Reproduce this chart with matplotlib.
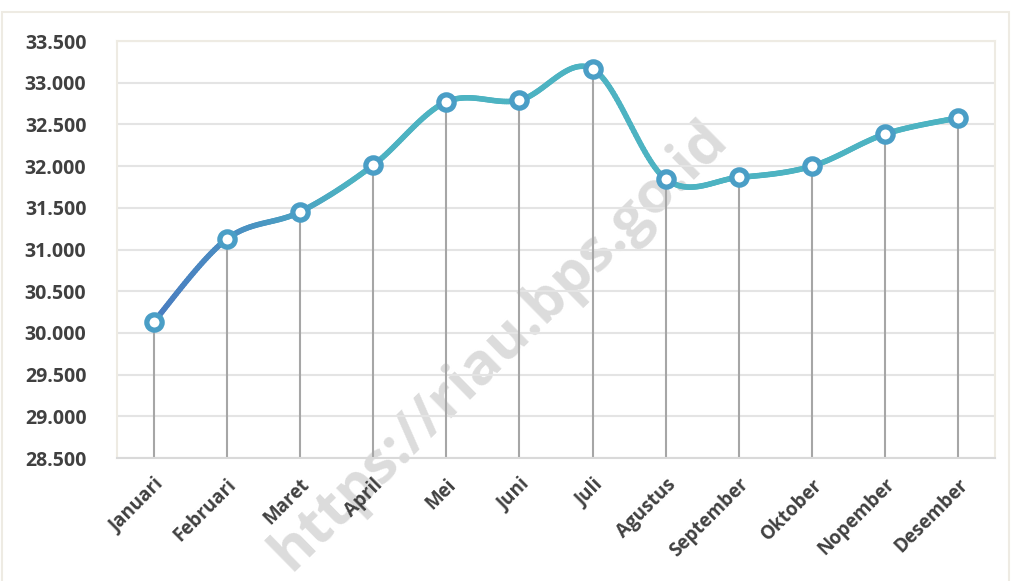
import matplotlib.pyplot as plt
import numpy as np
from matplotlib.collections import LineCollection
from matplotlib.colors import LinearSegmentedColormap
from matplotlib.patches import Rectangle

plt.rcParams['font.family'] = ['Open Sans', 'DejaVu Sans']

# data
months = ["Januari", "Februari", "Maret", "April", "Mei", "Juni", "Juli",
          "Agustus", "September", "Oktober", "Nopember", "Desember"]
values = [30130, 31125, 31450, 32010, 32770, 32790, 33165,
          31845, 31865, 32000, 32385, 32580]
y_ticks = [28500, 29000, 29500, 30000, 30500, 31000, 31500, 32000, 32500, 33000, 33500]


def smooth_curve(xs, ys, n=40):
    # Catmull-Rom style bezier like the spreadsheet "smoothed line"
    xs = np.asarray(xs, float)
    ys = np.asarray(ys, float) / 1000.0
    px, py = [], []
    m = len(xs)
    for i in range(m - 1):
        p0 = np.array([xs[max(i - 1, 0)], ys[max(i - 1, 0)]])
        p1 = np.array([xs[i], ys[i]])
        p2 = np.array([xs[i + 1], ys[i + 1]])
        p3 = np.array([xs[min(i + 2, m - 1)], ys[min(i + 2, m - 1)]])
        c1 = p1 + (p2 - p0) / 6.0
        c2 = p2 - (p3 - p1) / 6.0
        t = np.linspace(0, 1, n)[:, None]
        b = ((1 - t) ** 3) * p1 + 3 * ((1 - t) ** 2) * t * c1 + 3 * (1 - t) * t ** 2 * c2 + t ** 3 * p2
        if i > 0:
            b = b[1:]
        px.extend(b[:, 0])
        py.extend(b[:, 1] * 1000.0)
    return np.array(px), np.array(py)


fig = plt.figure(figsize=(10.12, 5.81), dpi=100)
ax = fig.add_axes([0.1156, 0.2117, 0.8676, 0.7177])
ax.set_facecolor('none')

x = np.arange(len(months))

# drop lines
ax.vlines(x, y_ticks[0], values, color='#a6a6a6', linewidth=1.5, zorder=2)

# smoothed line with blue -> teal gradient
sx, sy = smooth_curve(x, values)
pts = np.column_stack([sx, sy]).reshape(-1, 1, 2)
segs = np.concatenate([pts[:-1], pts[1:]], axis=1)
cmap = LinearSegmentedColormap.from_list('bt', ['#4a7cc0', '#4a93c2', '#4db2c2', '#4db3c2'])
frac = np.clip(sx[:-1] / 4.0, 0, 1)
lc = LineCollection(segs, colors=cmap(frac), linewidth=4, capstyle='round', zorder=3)
ax.add_collection(lc)

# markers
ax.plot(x, values, linestyle='none', marker='o', markersize=11,
        markerfacecolor='white', markeredgecolor='#4a9ec6', markeredgewidth=3.8, zorder=4)

ax.set_xlim(-0.5, len(months) - 0.5)
ax.set_ylim(y_ticks[0], y_ticks[-1])
ax.set_yticks(y_ticks)
ax.set_yticklabels([f"{v // 1000}.{v % 1000:03d}" for v in y_ticks])
ax.set_xticks(x)
ax.set_xticklabels(months, rotation=45, ha='right', rotation_mode='anchor')

ax.grid(axis='y', color='#e4e4e4', linewidth=1.5, zorder=0)
ax.set_axisbelow(True)
for s in ['top', 'right', 'left']:
    ax.spines[s].set_color('#eeebe3')
    ax.spines[s].set_linewidth(1.5)
ax.spines['bottom'].set_color('#d9d9d9')
ax.spines['bottom'].set_linewidth(1.5)

ax.tick_params(axis='y', length=0, pad=22, labelsize=14, labelcolor='#404040')
ax.tick_params(axis='x', length=0, pad=12, labelsize=13.5, labelcolor='#404040')
for lab in ax.get_yticklabels() + ax.get_xticklabels():
    lab.set_fontweight('bold')

# watermark, sits behind the chart lines
fig.text(0.494, 0.405, "https://riau.bps.go.id", rotation=44.5, fontsize=42,
         fontweight='bold', color='#dcdcdc', ha='center', va='center', zorder=-1)

# outer chart frame
fig.patches.append(Rectangle((0.002, -0.01), 0.995, 0.99, transform=fig.transFigure,
                             fill=False, edgecolor='#eeebe3', linewidth=1.5))

fig.savefig("out.png", dpi=100)
